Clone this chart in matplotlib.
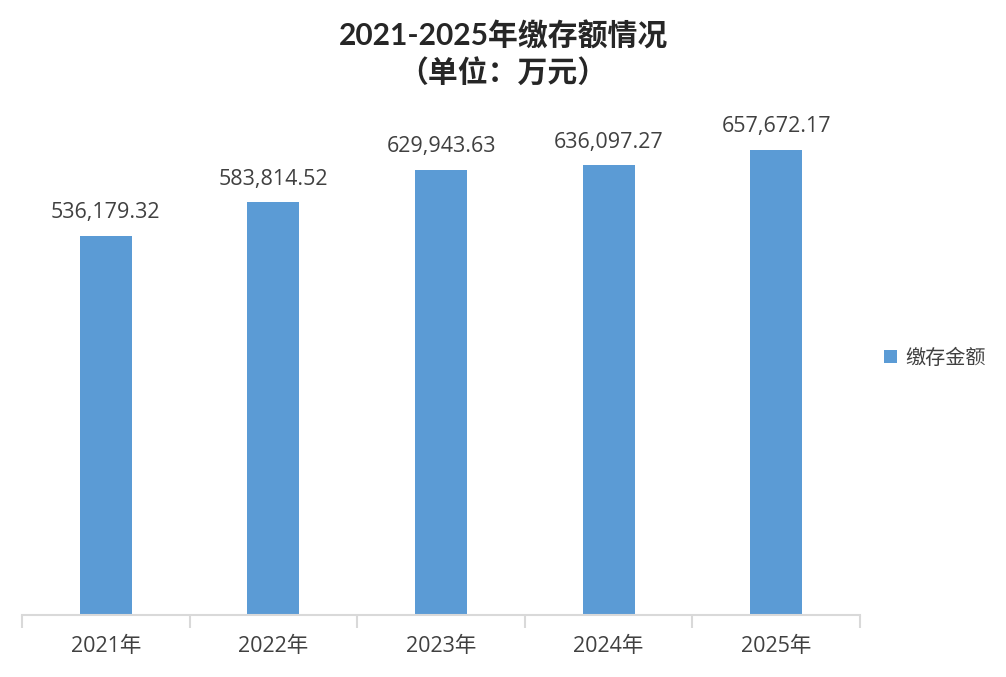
import matplotlib
matplotlib.use("Agg")
import matplotlib.pyplot as plt
import numpy as np

plt.rcParams['font.family'] = ['Lato', 'Noto Sans CJK SC', 'DejaVu Sans']

categories = ["2021年", "2022年", "2023年", "2024年", "2025年"]
values = [536179.32, 583814.52, 629943.63, 636097.27, 657672.17]
series_name = "缴存金额"
title = "2021-2025年缴存额情况\n（单位：万元）"

W, H = 1006, 677
fig = plt.figure(figsize=(W/100, H/100), dpi=100)
ax = fig.add_axes([22/W, (H-615)/H, (860-22)/W, (615-120)/H])

x = np.arange(len(categories))
bars = ax.bar(x, values, width=0.31, color="#5B9BD5", label=series_name, zorder=2)
for xi, v in zip(x, values):
    ax.annotate(f"{v:,.2f}", (xi, v), xytext=(0, 9), textcoords="offset points",
                ha="center", va="bottom", fontsize=15.5, color="#404040",
                family=['Open Sans', 'Noto Sans CJK SC'])

ax.set_xlim(-0.5, len(categories) - 0.5)
ax.set_ylim(0, 700000)
ax.set_yticks([])
for s in ["top", "right", "left"]:
    ax.spines[s].set_visible(False)
ax.spines["bottom"].set_color("#D9D9D9")
ax.spines["bottom"].set_linewidth(1.5)
ax.set_xticks(x)
ax.set_xticklabels(categories, fontsize=15.5, color="#404040",
                   family=['Open Sans', 'Noto Sans CJK SC'])
ax.tick_params(axis="x", which="major", length=0, pad=15)
ax.set_xticks(np.arange(-0.5, len(categories), 1.0), minor=True)
ax.tick_params(axis="x", which="minor", length=9, width=1.5, color="#D9D9D9")

fig.text(503/W, 1 - 55/H, title, ha="center", va="center", fontsize=21.5,
         fontweight="bold", color="#262626", linespacing=1.35,
         family=['Lato', 'Noto Sans CJK SC'])

leg = fig.legend(handles=[bars], labels=[series_name], loc="center left",
                 bbox_to_anchor=(866/W, 1 - 358/H), frameon=False,
                 handlelength=0.65, handleheight=0.65, handletextpad=0.4,
                 prop={'family': ['Noto Sans CJK SC'], 'size': 14.5})
for t in leg.get_texts():
    t.set_color("#404040")

fig.savefig("out.png", dpi=100)
